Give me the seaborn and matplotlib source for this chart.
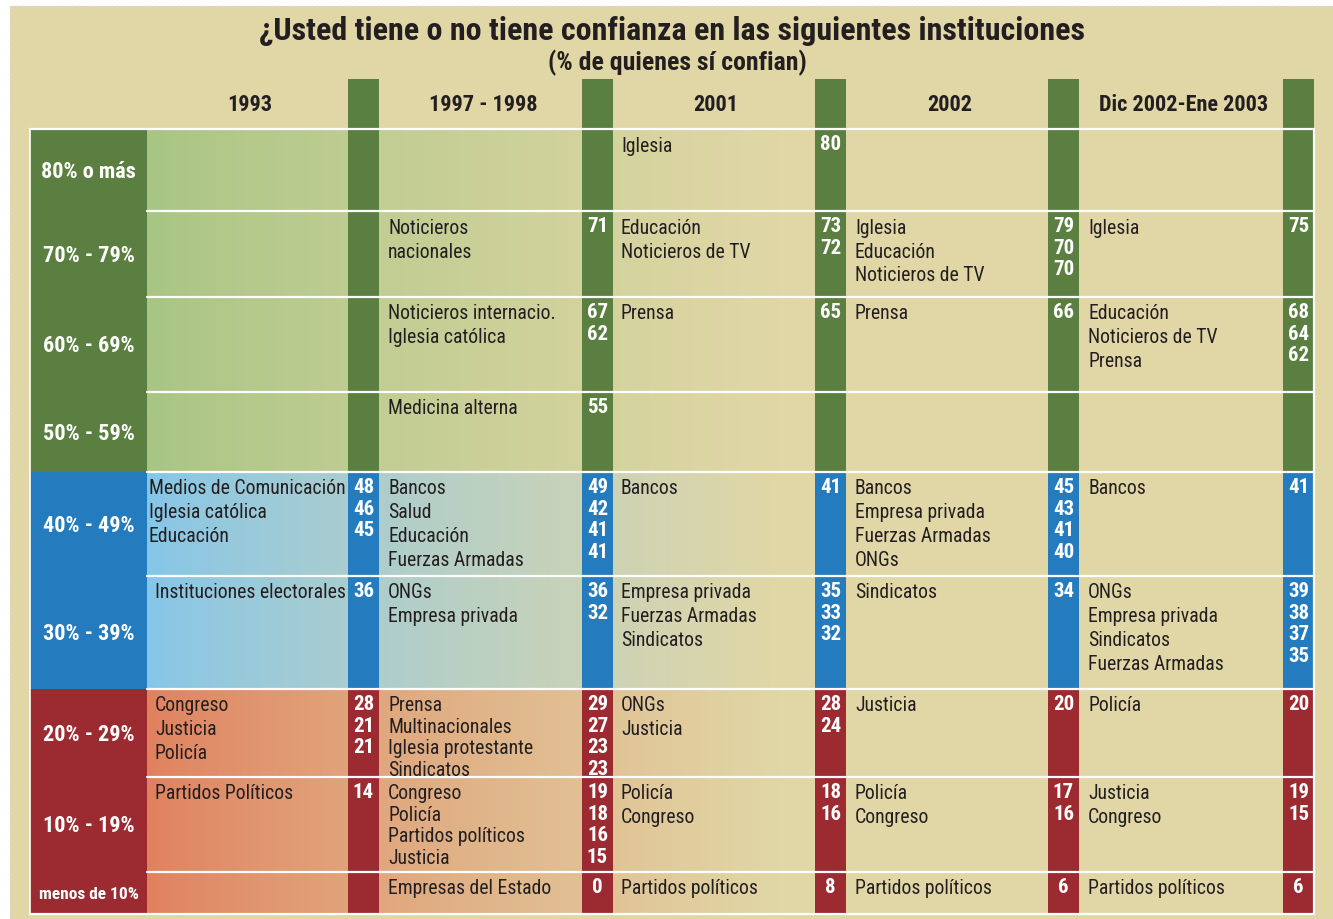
import numpy as np
import pandas as pd
import matplotlib.pyplot as plt
import matplotlib.colors as mcolors
from matplotlib import font_manager as fm
import seaborn as sns

# categories
years = ["1993", "1997 - 1998", "2001", "2002", "Dic 2002-Ene 2003"]
bands = ["80% o más", "70% - 79%", "60% - 69%", "50% - 59%", "40% - 49%",
         "30% - 39%", "20% - 29%", "10% - 19%", "menos de 10%"]

# institutions and % who trust them, per survey
inst_1993 = ["Medios de Comunicación", "Iglesia católica", "Educación",
             "Instituciones electorales", "Congreso", "Justicia", "Policía",
             "Partidos Políticos"]
val_1993 = [48, 46, 45, 36, 28, 21, 21, 14]

inst_1997 = ["Noticieros\nnacionales", "Noticieros internacio.", "Iglesia católica",
             "Medicina alterna", "Bancos", "Salud", "Educación", "Fuerzas Armadas",
             "ONGs", "Empresa privada", "Prensa", "Multinacionales",
             "Iglesia protestante", "Sindicatos", "Congreso", "Policía",
             "Partidos políticos", "Justicia", "Empresas del Estado"]
val_1997 = [71, 67, 62, 55, 49, 42, 41, 41, 36, 32, 29, 27, 23, 23, 19, 18, 16, 15, 0]

inst_2001 = ["Iglesia", "Educación", "Noticieros de TV", "Prensa", "Bancos",
             "Empresa privada", "Fuerzas Armadas", "Sindicatos", "ONGs", "Justicia",
             "Policía", "Congreso", "Partidos políticos"]
val_2001 = [80, 73, 72, 65, 41, 35, 33, 32, 28, 24, 18, 16, 8]

inst_2002 = ["Iglesia", "Educación", "Noticieros de TV", "Prensa", "Bancos",
             "Empresa privada", "Fuerzas Armadas", "ONGs", "Sindicatos", "Justicia",
             "Policía", "Congreso", "Partidos políticos"]
val_2002 = [79, 70, 70, 66, 45, 43, 41, 40, 34, 20, 17, 16, 6]

inst_2003 = ["Iglesia", "Educación", "Noticieros de TV", "Prensa", "Bancos", "ONGs",
             "Empresa privada", "Sindicatos", "Fuerzas Armadas", "Policía", "Justicia",
             "Congreso", "Partidos políticos"]
val_2003 = [75, 68, 64, 62, 41, 39, 38, 37, 35, 20, 19, 15, 6]

rows = []
for yr, insts, vals in zip(years, [inst_1993, inst_1997, inst_2001, inst_2002, inst_2003],
                           [val_1993, val_1997, val_2001, val_2002, val_2003]):
    for name, v in zip(insts, vals):
        band = 0 if v >= 80 else 8 - v // 10
        rows.append({"year": yr, "inst": name, "value": v, "band": band})
df = pd.DataFrame(rows)

# style: pick a condensed face close to the original
sns.set_theme(style="white")
avail = {f.name for f in fm.fontManager.ttflist}
cond = next((n for n in ["Roboto Condensed", "Fira Sans Condensed", "Asap Condensed",
                         "Archivo Narrow"] if n in avail), "DejaVu Sans")
plt.rcParams["font.family"] = [cond, "DejaVu Sans"]

beige = "#e1d7a6"
ink = "#231f20"
green = "#5a7f41"
blue = "#247bbd"
red = "#9c2a31"
band_colors = [green] * 4 + [blue] * 2 + [red] * 3
grad_start = {green: "#a7c583", blue: "#84c6ea", red: "#e0805e"}

# layout (pixels)
W, H = 1333, 920
row_edges = [130, 212, 298, 393, 473, 577, 690, 778, 873, 915]
label_x0, label_x1 = 30, 147
col_x0 = [147, 380, 613, 847, 1080]
strip_x0 = [348, 582, 815, 1048, 1283]
strip_w = 31

fig = plt.figure(figsize=(W / 100, H / 100), dpi=100)
ax = fig.add_axes([0, 0, 1, 1])
ax.axis("off")

# page background
ax.add_patch(plt.Rectangle((10, 7), W - 10, H - 7, facecolor=beige, edgecolor="none", zorder=0))
ax.plot([10, W], [7, 7], color="#d8d8d0", lw=1, ls=(0, (2, 2)), zorder=0.5)
ax.plot([10, 10], [7, H], color="#d8d8d0", lw=1, ls=(0, (2, 2)), zorder=0.5)

# gradients over the first columns
groups = [(0, 4, green), (4, 6, blue), (6, 9, red)]
for b0, b1, c in groups:
    c0 = np.array(mcolors.to_rgb(grad_start[c]))
    c1 = np.array(mcolors.to_rgb(beige))
    t = np.linspace(0, 1, 300) ** 0.8
    img = (c0[None, :] * (1 - t[:, None]) + c1[None, :] * t[:, None])[None, :, :]
    ax.imshow(img, extent=[label_x1, 780, row_edges[b1], row_edges[b0]],
              aspect="auto", interpolation="bilinear", zorder=1)

# band label column and strips
for b, lab in enumerate(bands):
    y0, y1 = row_edges[b], row_edges[b + 1]
    c = band_colors[b]
    ax.add_patch(plt.Rectangle((label_x0, y0), label_x1 - label_x0, y1 - y0,
                               facecolor=c, edgecolor="none", zorder=2))
    fs = 12.5 if b == 8 else 16
    ax.text((label_x0 + label_x1) / 2, (y0 + y1) / 2 + 1, lab, color="white",
            fontsize=fs, fontweight="bold", ha="center", va="center", zorder=5)
    for sx in strip_x0:
        top = 80 if b == 0 else y0
        ax.add_patch(plt.Rectangle((sx, top), strip_w, y1 - top,
                                   facecolor=c, edgecolor="none", zorder=2))

# white grid lines
for i, y in enumerate(row_edges):
    x_start = label_x0 if i in (0, len(row_edges) - 1) else label_x1
    ax.plot([x_start, strip_x0[-1] + strip_w], [y, y], color="white", lw=1.6, zorder=3)
ax.plot([strip_x0[-1] + strip_w] * 2, [row_edges[0], row_edges[-1]], color="white", lw=1.6, zorder=3)
ax.plot([label_x0] * 2, [row_edges[0], row_edges[-1]], color="white", lw=1.2, zorder=3)

# titles
ax.text(672, 31, "¿Usted tiene o no tiene confianza en las siguientes instituciones",
        fontsize=23, fontweight="heavy", ha="center", va="center", color=ink, zorder=5)
ax.text(677, 63, "(% de quienes sí confian)", fontsize=18.5, fontweight="heavy",
        ha="center", va="center", color=ink, zorder=5)
for j, yr in enumerate(years):
    ax.text((col_x0[j] + strip_x0[j]) / 2 + 2, 105, yr, fontsize=16, fontweight="heavy",
            ha="center", va="center", color=ink, zorder=5)

# cell contents
for j, yr in enumerate(years):
    sub = df[df["year"] == yr]
    for b, cell in sub.groupby("band"):
        y0, y1 = row_edges[b], row_edges[b + 1]
        lines = sum(s.count("\n") + 1 for s in cell["inst"])
        step = 21.5 if lines * 24 > (y1 - y0) else 24
        indent = 2 if (j == 0 and b == 4) else 8
        ty = y0 + 16
        for k, (name, v) in enumerate(zip(cell["inst"], cell["value"])):
            for part in name.split("\n"):
                ax.text(col_x0[j] + indent, ty, part, fontsize=14.2, ha="left", va="center",
                        color=ink, zorder=5)
                ty += step
            ax.text(strip_x0[j] + strip_w / 2, y0 + 15 + k * 21.5, str(v), fontsize=15,
                    fontweight="heavy", ha="center", va="center", color="white", zorder=5)

ax.set_xlim(0, W)
ax.set_ylim(H, 0)
fig.savefig("out.png", dpi=100, facecolor="white")
